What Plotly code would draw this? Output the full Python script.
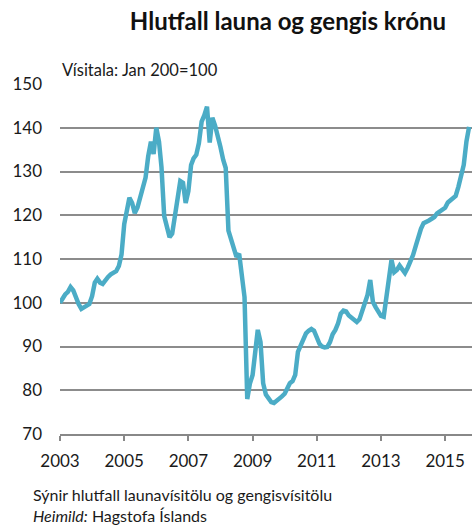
import plotly.graph_objects as go
import pandas as pd

# mánaðargögn, jan 2003 - okt 2015 (Vísitala: Jan 2003=100)
start_month = "2003-01-01"
hlutfall = [
    100.0, 101.3, 101.9, 102.5, 103.6, 102.8, 101.0, 99.7, 98.6, 98.9, 99.2, 99.7,
    101.5, 104.6, 105.5, 104.6, 104.3, 105.2, 105.9, 106.5, 106.9, 107.2, 108.4, 111.0,
    118.0, 121.5, 124.0, 122.8, 120.5, 121.8, 124.2, 126.3, 128.6, 133.5, 136.8, 134.0,
    140.0, 136.8, 131.0, 119.8, 117.1, 115.0, 115.8, 119.5, 124.0, 127.8, 127.4, 122.8,
    125.5, 131.5, 133.0, 133.8, 136.5, 141.4, 142.8, 144.8, 136.6, 142.3, 140.5, 138.4,
    135.6, 132.7, 130.8, 116.5, 114.5, 113.0, 110.5, 111.2, 106.5, 101.3, 78.0, 81.5,
    83.5, 88.0, 93.8, 91.0, 81.6, 79.0, 78.0, 77.3, 77.1, 77.5, 78.0, 78.6,
    79.2, 80.4, 81.6, 82.1, 83.5, 88.8, 90.0, 91.4, 93.0, 93.6, 94.0, 93.6,
    92.2, 90.6, 90.0, 89.8, 89.9, 91.0, 92.8, 93.8, 95.3, 97.5, 98.2, 98.0,
    97.1, 96.6, 96.1, 95.6, 96.2, 98.3, 100.3, 101.8, 105.2, 100.2, 99.0, 98.2,
    97.0, 96.8, 101.0, 106.0, 109.8, 107.0, 107.5, 108.5, 107.7, 106.8, 108.0, 109.2,
    110.9, 113.0, 115.3, 116.9, 118.2, 118.4, 118.8, 119.2, 119.6, 120.4, 120.9, 121.2,
    121.7, 122.9, 123.4, 123.8, 124.4, 126.5, 128.8, 131.5, 136.9, 140.2,
]
y_ticks = [70, 80, 90, 100, 110, 120, 130, 140, 150]

dates = pd.date_range(start_month, periods=len(hlutfall), freq="MS")

W, H = 474, 527
L, R, T, B = 60, 2, 84, 93
ph = H - T - B

def py(pix):
    # pixel y -> paper y
    return (H - B - pix) / ph

def px(pix):
    return (pix - L) / (W - L - R)

fig = go.Figure()
fig.add_trace(go.Scatter(
    x=dates, y=hlutfall, mode="lines",
    line=dict(color="#4BACC6", width=4.5),
    hoverinfo="skip", showlegend=False,
))

font = "Lato, 'Open Sans', sans-serif"

fig.update_layout(
    width=W, height=H,
    margin=dict(l=L, r=R, t=T, b=B, autoexpand=False),
    paper_bgcolor="white", plot_bgcolor="white",
    font=dict(family=font, size=17, color="#1a1a1a"),
    title=dict(text="<b>Hlutfall launa og gengis krónu</b>",
               x=288 / W, xanchor="center", y=1 - 22 / H, yanchor="middle",
               font=dict(size=24, color="#111111")),
    xaxis=dict(
        type="date", range=["2003-01-01", "2015-11-03"],
        tick0="2003-01-01", dtick="M24", tickformat="%Y",
        showgrid=False, zeroline=False, automargin=False,
        showline=True, linecolor="#888888", linewidth=2,
        ticks="outside", ticklen=5, tickcolor="#888888", tickwidth=1.5,
        ticklabelstandoff=6,
        tickfont=dict(size=17),
    ),
    yaxis=dict(
        range=[70, 150], tickvals=y_ticks, automargin=False,
        showgrid=True, gridcolor="#8c8c8c", gridwidth=2,
        zeroline=False, showline=False, ticks="",
        ticklabelstandoff=17,
        tickfont=dict(size=17),
    ),
)

fig.add_annotation(
    text="Vísitala: Jan 200=100", x=0, y=py(70), xref="paper", yref="paper",
    xanchor="left", yanchor="middle", showarrow=False, font=dict(size=16.5),
)
# neðanmálstexti, tvær línur í einum reit
fig.add_annotation(
    text="Sýnir hlutfall launavísitölu og gengisvísitölu<br><i>Heimild:</i> Hagstofa Íslands",
    x=px(31), y=py(505), xref="paper", yref="paper",
    xanchor="left", yanchor="middle", align="left", showarrow=False,
    font=dict(size=16),
)

# no default page margin, so the figure sits at the window's corner
fig.write_html("out.html", config={"displayModeBar": False},
               post_script="document.body.style.margin='0';")
